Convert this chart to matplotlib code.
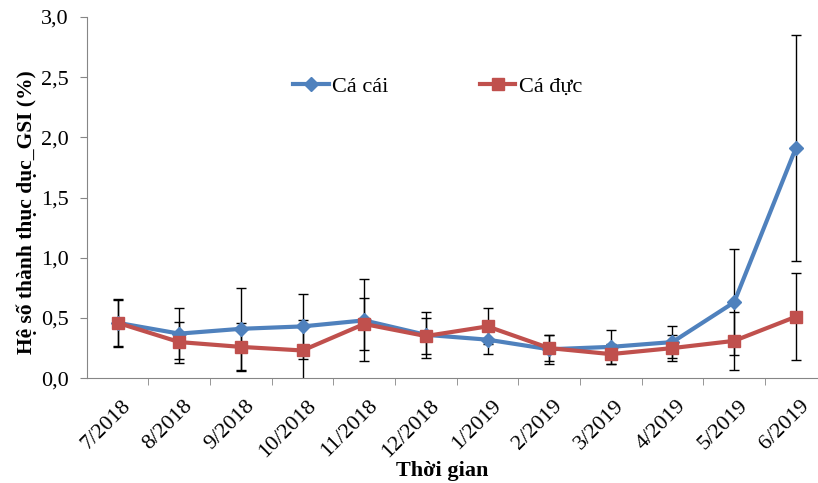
import numpy as np
import matplotlib.pyplot as plt
import matplotlib.transforms as mtransforms

plt.rcParams['font.family'] = ['Liberation Serif', 'DejaVu Serif']

thang = ["7/2018", "8/2018", "9/2018", "10/2018", "11/2018", "12/2018",
         "1/2019", "2/2019", "3/2019", "4/2019", "5/2019", "6/2019"]

ca_cai = [0.46, 0.37, 0.41, 0.43, 0.48, 0.36, 0.32, 0.24, 0.26, 0.30, 0.63, 1.91]
ca_cai_sd = [0.19, 0.21, 0.34, 0.27, 0.34, 0.19, 0.12, 0.12, 0.14, 0.13, 0.44, 0.94]

ca_duc = [0.46, 0.30, 0.26, 0.23, 0.45, 0.35, 0.43, 0.25, 0.20, 0.25, 0.31, 0.51]
ca_duc_sd = [0.20, 0.17, 0.20, 0.25, 0.22, 0.15, 0.15, 0.11, 0.08, 0.11, 0.24, 0.36]

x = np.arange(len(thang))

fig = plt.figure(figsize=(8.18, 4.83), dpi=100)
ax = fig.add_axes([0.106, 0.217, 0.894, 0.748])

# thanh sai so (den, mong)
ax.errorbar(x, ca_cai, yerr=ca_cai_sd, fmt='none', ecolor='black', elinewidth=1,
            capsize=3.5, capthick=1, zorder=2)
ax.errorbar(x, ca_duc, yerr=ca_duc_sd, fmt='none', ecolor='black', elinewidth=1,
            capsize=3.5, capthick=1, zorder=2)

ax.plot(x, ca_cai, color='#4F81BD', lw=3, marker='D', markersize=7.5,
        label='Cá cái', zorder=3)
ax.plot(x, ca_duc, color='#C0504D', lw=3, marker='s', markersize=8.5,
        label='Cá đực', zorder=4)

ax.set_xlim(-0.5, 11.36)
ax.set_ylim(0, 3.0)
ax.set_yticks(np.arange(0, 3.01, 0.5))
ax.set_yticklabels([f"{v:.1f}".replace('.', ',') for v in np.arange(0, 3.01, 0.5)],
                   fontsize=16)
ax.set_xticks(x)
ax.set_xticklabels(thang, rotation=45, ha='right', rotation_mode='anchor', fontsize=16)
ax.set_xticks(np.arange(0.5, 11.5, 1), minor=True)
ax.tick_params(axis='x', which='major', length=0, pad=13)
ax.tick_params(axis='x', which='minor', length=5, color='#868686', direction='out')
ax.tick_params(axis='y', length=5, color='#868686', direction='out', pad=8)

# dich nhan truc x sang phai mot chut
dx = mtransforms.ScaledTranslation(0.04, 0, fig.dpi_scale_trans)
for lb in ax.get_xticklabels():
    lb.set_transform(lb.get_transform() + dx)

for s in ['top', 'right']:
    ax.spines[s].set_visible(False)
for s in ['left', 'bottom']:
    ax.spines[s].set_color('#868686')

ax.set_ylabel('Hệ số thành thục dục_GSI (%)', fontsize=15.5, fontweight='bold')
ax.yaxis.set_label_coords(-0.068, 0.46)
fig.text(0.540, 1 - 471 / 483, 'Thời gian', fontsize=16, fontweight='bold',
         ha='center', va='center')

fig.legend(loc='center', bbox_to_anchor=(0.535, 0.82), ncol=2, frameon=False,
           fontsize=16, handlelength=1.6, handletextpad=0.15, columnspacing=4.1)

plt.savefig('out.png', dpi=100)
